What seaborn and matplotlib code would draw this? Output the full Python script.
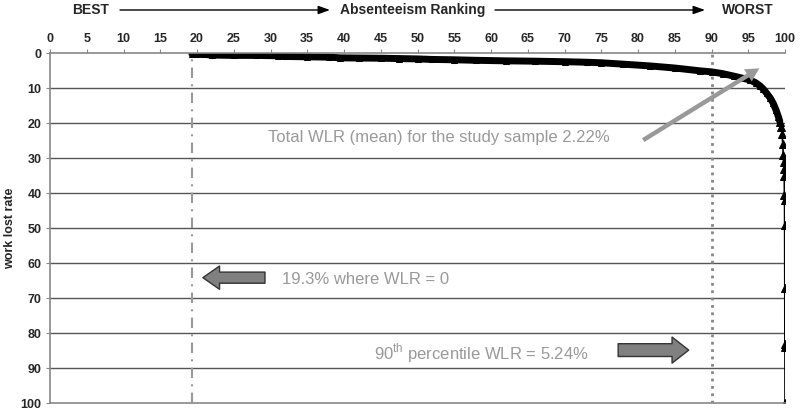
import matplotlib
matplotlib.use("Agg")
from matplotlib import pyplot as plt
from matplotlib.patches import FancyArrowPatch
from pandas import DataFrame
import seaborn as sns


# ranked sample: percentile position vs work lost rate
percentile = [19.3, 20, 21, 22, 25, 28, 31, 32, 35, 38, 39.5, 42, 45, 47.5,
              50, 52, 55, 58, 62, 66, 70, 73, 75, 78, 81.6, 85, 88.4, 90,
              91.5, 93, 94, 95.2, 96, 96.6, 97, 97.5, 98, 98.4, 98.8, 99.1,
              99.3, 99.5, 99.6, 99.7, 99.75, 99.8, 99.85, 99.9, 99.92, 99.94,
              99.95, 99.97, 99.98, 99.99, 100]
wlr = [0.1, 0.2, 0.3, 0.5, 0.6, 0.6, 0.7, 0.9, 1.0, 1.1, 1.3, 1.35, 1.4, 1.5,
       1.6, 1.75, 1.85, 2.0, 2.15, 2.25, 2.4, 2.55, 2.7, 3.1, 3.6, 4.2, 5.0, 5.3,
       5.8, 6.5, 7.0, 7.6, 8.4, 9.3, 10.1, 11.4, 12.8, 14.3, 16.3, 18.1,
       19.5, 21, 23, 26, 29, 31, 33, 35, 40.5, 42, 49, 67, 83, 84, 100]

x_ticks = list(range(0, 101, 5))
y_ticks = list(range(0, 101, 10))

zero_share = 19.3
p90_rank = 90

mean_text = "Total WLR (mean) for the study sample 2.22%"
zero_text = "19.3% where WLR = 0"
p90_text = "90$^{\\rm th}$ percentile WLR = 5.24%"

sns.set_style("white")
plt.rcParams["font.family"] = ["Liberation Sans", "DejaVu Sans"]
plt.rcParams["mathtext.fontset"] = "custom"
plt.rcParams["mathtext.rm"] = "Liberation Sans"

df = DataFrame({"rank": percentile, "wlr": wlr})
body = df[df["rank"] <= 99.3]
tail = df[df["rank"] >= 99.3]

fig = plt.figure(figsize=(8, 4.12), dpi=100)
ax = fig.add_axes([0.0625, 0.0211, 0.91875, 0.8495])

sns.lineplot(data=body, x="rank", y="wlr", ax=ax, color="black",
             linewidth=5, marker="^", markersize=5, markeredgecolor="black")
sns.lineplot(data=tail, x="rank", y="wlr", ax=ax, color="black",
             linewidth=1.2, marker="^", markersize=5.5, markeredgecolor="black")

ax.set_xlim(0, 100)
ax.set_ylim(100, 0)
ax.set_xticks(x_ticks)
ax.set_yticks(y_ticks)
ax.xaxis.tick_top()
ax.tick_params(axis="x", top=True, bottom=False, labeltop=True, labelbottom=False,
               length=3, width=0.8, color="#888888", pad=3, labelsize=9)
ax.tick_params(axis="y", left=True, length=3, width=0.8, color="#888888",
               pad=3, labelsize=9)
plt.setp(ax.get_xticklabels(), fontweight="bold")
plt.setp(ax.get_yticklabels(), fontweight="bold")
ax.set_xlabel("")
ax.set_ylabel("work lost rate", fontsize=9, fontweight="bold", labelpad=3)

for y in y_ticks[1:-1]:
    ax.axhline(y, color="#555555", lw=1, zorder=0)
for side in ["left", "top", "bottom"]:
    ax.spines[side].set_color("#888888")
    ax.spines[side].set_linewidth(1.2)
ax.spines["right"].set_visible(False)

ax.axvline(zero_share, color="#999999", lw=1.5, ls=(0, (5, 3, 1, 3)), zorder=1)
ax.axvline(p90_rank, color="#888888", lw=2, ls=":", zorder=1)

# notes
ax.text(29.7, 24.1, mean_text, color="#999999", fontsize=12, va="center")
ax.text(31.5, 64.5, zero_text, color="#999999", fontsize=12, va="center")
ax.text(44.1, 85.6, p90_text, color="#999999", fontsize=12, va="center")

ax.add_patch(FancyArrowPatch((80.7, 24.8), (96.5, 4.3),
                             arrowstyle="simple,head_length=1.2,head_width=1.3,tail_width=0.4",
                             mutation_scale=8, facecolor="#999999", edgecolor="none",
                             shrinkA=0, shrinkB=0, zorder=4))
ax.add_patch(FancyArrowPatch((29.25, 64.1), (20.8, 64.1),
                             arrowstyle="simple,head_length=1.5,head_width=2.1,tail_width=1.0",
                             mutation_scale=8, facecolor="#808080", edgecolor="#333333",
                             lw=1, shrinkA=0, shrinkB=0, zorder=4))
ax.add_patch(FancyArrowPatch((77.3, 84.8), (86.9, 84.8),
                             arrowstyle="simple,head_length=1.5,head_width=2.35,tail_width=1.15",
                             mutation_scale=8, facecolor="#808080", edgecolor="#333333",
                             lw=1, shrinkA=0, shrinkB=0, zorder=4))

# header
yh = 1 - 10 / 412
fig.text(91 / 800, yh, "BEST", fontsize=10, fontweight="bold", ha="center", va="center")
fig.text(413 / 800, yh, "Absenteeism Ranking", fontsize=10, fontweight="bold",
         ha="center", va="center")
fig.text(748 / 800, yh, "WORST", fontsize=10, fontweight="bold", ha="center", va="center")
for x0, x1 in [(120, 330), (495, 705)]:
    fig.add_artist(FancyArrowPatch((x0 / 800, yh), (x1 / 800, yh),
                                   transform=fig.transFigure,
                                   arrowstyle="-|>,head_length=0.7,head_width=0.25",
                                   mutation_scale=10, lw=1, color="black",
                                   shrinkA=0, shrinkB=0))

fig.savefig("out.png", dpi=100)
